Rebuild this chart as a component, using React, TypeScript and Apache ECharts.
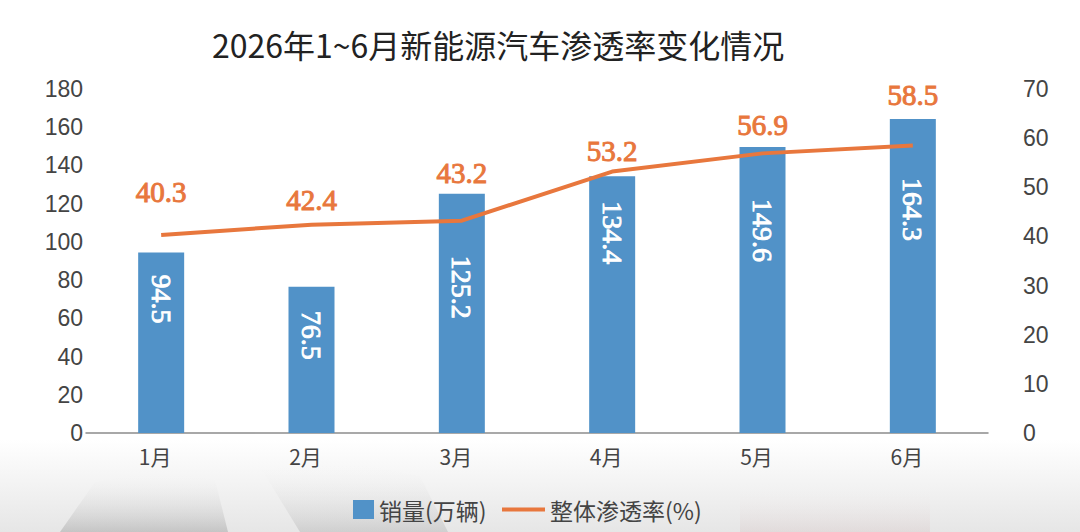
import React, { useEffect, useRef } from "react";
import * as echarts from "echarts";

const titleText = "2026年1~6月新能源汽车渗透率变化情况";
const months = ["1月", "2月", "3月", "4月", "5月", "6月"];
const sales = [94.5, 76.5, 125.2, 134.4, 149.6, 164.3];
const penetration = [40.3, 42.4, 43.2, 53.2, 56.9, 58.5];
const salesName = "销量(万辆)";
const rateName = "整体渗透率(%)";

// label placement tweaks (style only)
const barLabelGap = [22, 24, 62, 25, 52, 59];
const lineLabelGap = [28, 10, 33, 6, 14, 36];

const BLUE = "#5192c8";
const ORANGE = "#e8773d";

export default function App() {
  const ref = useRef<HTMLDivElement>(null);

  useEffect(() => {
    document.body.style.margin = "0";
    if (!ref.current) return;
    const chart = echarts.init(ref.current, undefined, { renderer: "svg" });

    const softShape = (pts: number[][], color: string) => ({
      type: "polygon",
      z: -9,
      silent: true,
      shape: { points: pts },
      style: {
        fill: new echarts.graphic.LinearGradient(0, 0, 0, 1, [
          { offset: 0, color: "rgba(255,255,255,0)" },
          { offset: 1, color },
        ]),
      },
    });

    const option: any = {
      animation: false,
      backgroundColor: "#ffffff",
      title: {
        text: titleText,
        left: 212,
        top: 28,
        padding: 0,
        textStyle: {
          fontFamily: "Noto Sans CJK SC",
          fontSize: 32,
          fontWeight: "normal",
          color: "#222222",
        },
      },
      graphic: [
        {
          type: "rect",
          z: -10,
          silent: true,
          shape: { x: 0, y: 440, width: 1080, height: 92 },
          style: {
            fill: new echarts.graphic.LinearGradient(0, 0, 0, 1, [
              { offset: 0, color: "rgba(255,255,255,1)" },
              { offset: 1, color: "#e6e6e6" },
            ]),
          },
        },
        softShape(
          [
            [60, 532],
            [95, 482],
            [160, 470],
            [215, 480],
            [228, 532],
          ],
          "rgba(120,120,120,0.3)"
        ),
        softShape(
          [
            [262, 470],
            [340, 460],
            [420, 476],
            [448, 532],
            [300, 532],
          ],
          "rgba(140,140,140,0.25)"
        ),
        softShape(
          [
            [740, 480],
            [930, 480],
            [930, 532],
            [740, 532],
          ],
          "rgba(210,185,185,0.25)"
        ),
      ],
      legend: [
        {
          data: [{ name: salesName, icon: "rect" }],
          left: 353,
          top: 498,
          padding: 0,
          itemWidth: 21,
          itemHeight: 19,
          textStyle: {
            fontFamily: "Noto Sans CJK SC",
            fontSize: 23,
            color: "#444444",
          },
        },
        {
          data: [{ name: rateName, icon: "rect" }],
          left: 502,
          top: 498,
          padding: 0,
          itemWidth: 43,
          itemHeight: 4,
          textStyle: {
            fontFamily: "Noto Sans CJK SC",
            fontSize: 23,
            color: "#444444",
          },
        },
      ],
      grid: {
        left: 86,
        right: 92,
        top: 89,
        bottom: 99,
        containLabel: false,
      },
      xAxis: {
        type: "category",
        data: months,
        axisTick: { show: false },
        axisLine: { lineStyle: { color: "#8c8c8c", width: 1.5 } },
        axisLabel: {
          margin: 12,
          padding: [0, 12, 0, 0],
          fontFamily: "Noto Sans CJK SC",
          fontSize: 21,
          color: "#444444",
        },
      },
      yAxis: [
        {
          type: "value",
          min: 0,
          max: 180,
          interval: 20,
          splitLine: { show: false },
          axisLine: { show: false },
          axisTick: { show: false },
          axisLabel: {
            margin: 3,
            fontFamily: "Liberation Sans",
            fontSize: 23,
            color: "#444444",
          },
        },
        {
          type: "value",
          min: 0,
          max: 70,
          interval: 10,
          position: "right",
          splitLine: { show: false },
          axisLine: { show: false },
          axisTick: { show: false },
          axisLabel: {
            margin: 35,
            fontFamily: "Liberation Sans",
            fontSize: 23,
            color: "#444444",
          },
        },
      ],
      series: [
        {
          name: salesName,
          type: "bar",
          barWidth: 46,
          itemStyle: { color: BLUE },
          data: sales.map((v, i) => ({
            value: v,
            label: { distance: barLabelGap[i] },
          })),
          label: {
            show: true,
            position: "insideTop",
            rotate: -90,
            align: "left",
            verticalAlign: "middle",
            fontFamily: "Liberation Sans Narrow",
            fontSize: 28,
            color: "#ffffff",
            textBorderColor: "#ffffff",
            textBorderWidth: 0.9,
          },
        },
        {
          name: rateName,
          type: "line",
          yAxisIndex: 1,
          symbol: "circle",
          symbolSize: 0,
          showSymbol: true,
          lineStyle: { color: ORANGE, width: 4 },
          itemStyle: { color: ORANGE },
          data: penetration.map((v, i) => ({
            value: v,
            label: { distance: lineLabelGap[i] },
          })),
          label: {
            show: true,
            position: "top",
            fontFamily: "Liberation Sans Narrow",
            fontWeight: "normal",
            fontSize: 29,
            color: ORANGE,
            textBorderColor: ORANGE,
            textBorderWidth: 1,
          },
        },
      ],
    };

    chart.setOption(option);
    return () => {
      chart.dispose();
    };
  }, []);

  return <div ref={ref} style={{ width: 1080, height: 532 }} />;
}
